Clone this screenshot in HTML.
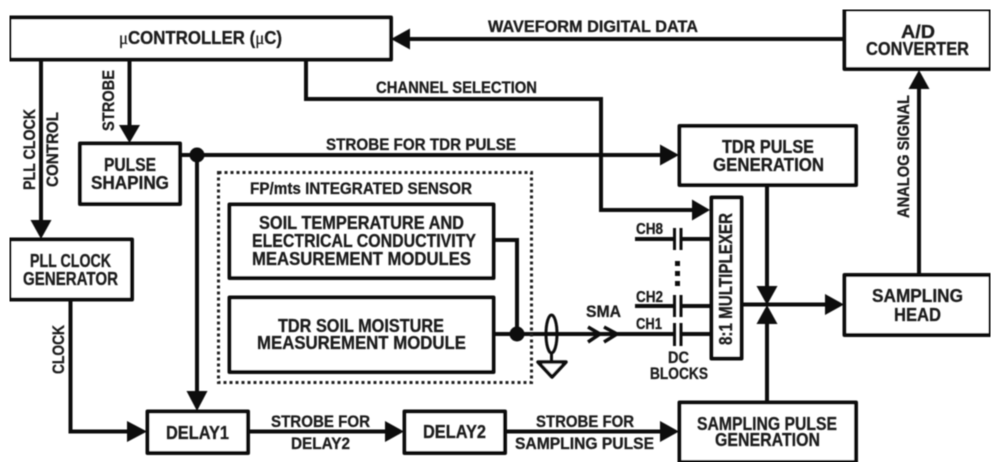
<!DOCTYPE html>
<html><head><meta charset="utf-8"><style>
html,body{margin:0;padding:0;background:#fff}
svg{display:block}
text{font-family:"Liberation Sans",sans-serif;font-weight:700;fill:#1c1c1c;stroke:#1c1c1c;stroke-width:.3;font-size:17px}
.m{font-weight:700;font-size:18px}
.s{font-weight:700;font-size:17px}
.b{fill:#fff;stroke:#111;stroke-width:4;stroke-linejoin:round}
.l{fill:none;stroke:#111;stroke-width:4;stroke-linejoin:miter}
.t{stroke:#111;stroke-width:3;fill:none}
.a{fill:#111}
</style></head><body>
<svg width="1000" height="472" viewBox="0 0 1000 472" xmlns="http://www.w3.org/2000/svg">
<defs><filter id="f" x="0" y="0" width="100%" height="100%"><feGaussianBlur stdDeviation="0.4"/></filter></defs>
<g filter="url(#f)">
<!-- connectors -->
<path class="l" d="M844 39H405"/><polygon class="a" points="391,39 410,28.500 410,49.500"/>
<path class="l" d="M306 60V99H601V210H695"/><polygon class="a" points="710,210 692,199.500 692,220.500"/>
<path class="l" d="M41 60V225"/><polygon class="a" points="41,239 30.500,220 51.500,220"/>
<path class="l" d="M129.500 60V130"/><polygon class="a" points="129.500,143 119,125 140,125"/>
<path class="l" d="M180 155H665"/><polygon class="a" points="679,155 660,144.500 660,165.500"/>
<circle class="a" cx="197" cy="155" r="7.500"/>
<path class="l" d="M197 155V398"/><polygon class="a" points="197,411 186.500,391 207.500,391"/>
<path class="l" d="M70.500 299V431.500H134"/><polygon class="a" points="147,431.500 127,421 127,442"/>
<path class="l" d="M248 431.500H392"/><polygon class="a" points="404,431.500 385,421 385,442"/>
<path class="l" d="M505 431.500H665"/><polygon class="a" points="679,431.500 660,421 660,442"/>
<path class="l" d="M767 185V290"/><polygon class="a" points="767,305 756.500,286 777.500,286"/>
<path class="l" d="M767 402V320"/><polygon class="a" points="767,305 756.500,324 777.500,324"/>
<path class="l" d="M742 304.500H830"/><polygon class="a" points="844,304.500 825,294 825,315"/>
<path class="l" d="M919 275V85"/><polygon class="a" points="919,70 908.500,89 929.500,89"/>
<path class="l" d="M493 240H517V334"/>
<path class="l" d="M493 334H617"/>
<circle class="a" cx="517" cy="334" r="7.500"/>
<!-- dashed sensor -->
<rect x="218.500" y="172.500" width="313" height="210" fill="none" stroke="#222" stroke-width="3" stroke-dasharray="3 3"/>
<!-- cable + ground -->
<ellipse cx="551.500" cy="334" rx="5.500" ry="19" fill="none" stroke="#111" stroke-width="3"/>
<path class="t" d="M551.500 353V362"/>
<polygon points="538,362 566,362 552,377" fill="#fff" stroke="#111" stroke-width="3.500" stroke-linejoin="round"/>
<!-- SMA chevrons -->
<path d="M588 327L600 334L588 342M604 327L617 334L604 342" fill="none" stroke="#111" stroke-width="3.500"/>
<!-- channel lines + capacitors -->
<path class="l" d="M635 239H674M681 239H710M635 306H674M681 306H710M617 334H674M681 334H710"/>
<path class="t" d="M674.500 228V250M681 228V250M674.500 295V317M681 295V317M674.500 323V346M681 323V346"/>
<rect class="a" x="675" y="261" width="5" height="5"/><rect class="a" x="675" y="271" width="5" height="5"/><rect class="a" x="675" y="281" width="5" height="5"/>
<!-- boxes -->
<rect class="b" x="9.500" y="17.500" width="381.500" height="42"/>
<rect class="b" x="844.500" y="9.500" width="146" height="59.500"/>
<rect class="b" x="80" y="143.500" width="100" height="60.500"/>
<rect class="b" x="9.500" y="239.500" width="122.500" height="60"/>
<rect class="b" x="679.500" y="126" width="176.500" height="59"/>
<rect class="b" x="711.500" y="197.500" width="30" height="161"/>
<rect class="b" x="844.500" y="275" width="146" height="60"/>
<rect class="b" x="679.500" y="402.500" width="176.500" height="59.500"/>
<rect class="b" x="147.500" y="411.500" width="100.500" height="41.500"/>
<rect class="b" x="404.500" y="411.500" width="100.500" height="41.500"/>
<rect class="b" x="229.500" y="204.500" width="264" height="73.500"/>
<rect class="b" x="229.500" y="297.500" width="264" height="74.500"/>
</g>
<g filter="url(#f)">
<!-- labels -->
<text class="m" x="119" y="44" textLength="163" lengthAdjust="spacingAndGlyphs"><tspan style="font-family:'Liberation Serif',serif;font-weight:normal">μ</tspan>CONTROLLER (<tspan style="font-family:'Liberation Serif',serif;font-weight:normal">μ</tspan>C)</text>
<text class="s" x="488" y="32" textLength="210" lengthAdjust="spacingAndGlyphs">WAVEFORM DIGITAL DATA</text>
<text class="s" x="376" y="93" textLength="161" lengthAdjust="spacingAndGlyphs">CHANNEL SELECTION</text>
<text class="s" x="326" y="150" textLength="190" lengthAdjust="spacingAndGlyphs">STROBE FOR TDR PULSE</text>
<text class="m" x="901" y="38" textLength="34" lengthAdjust="spacingAndGlyphs">A/D</text>
<text class="m" x="866" y="55" textLength="103" lengthAdjust="spacingAndGlyphs">CONVERTER</text>
<text class="m" x="722" y="153" textLength="92" lengthAdjust="spacingAndGlyphs">TDR PULSE</text>
<text class="m" x="713" y="171" textLength="111" lengthAdjust="spacingAndGlyphs">GENERATION</text>
<text class="m" x="104" y="171" textLength="52" lengthAdjust="spacingAndGlyphs">PULSE</text>
<text class="m" x="91" y="189" textLength="78" lengthAdjust="spacingAndGlyphs">SHAPING</text>
<text class="m" x="30" y="267" textLength="81" lengthAdjust="spacingAndGlyphs">PLL CLOCK</text>
<text class="m" x="23" y="285" textLength="95" lengthAdjust="spacingAndGlyphs">GENERATOR</text>
<text class="s" x="250" y="194" textLength="222" lengthAdjust="spacingAndGlyphs">FP/mts INTEGRATED SENSOR</text>
<text class="m" x="259" y="229" textLength="205" lengthAdjust="spacingAndGlyphs">SOIL TEMPERATURE AND</text>
<text class="m" x="252" y="247" textLength="224" lengthAdjust="spacingAndGlyphs">ELECTRICAL CONDUCTIVITY</text>
<text class="m" x="252" y="265" textLength="219" lengthAdjust="spacingAndGlyphs">MEASUREMENT MODULES</text>
<text class="m" x="278" y="332" textLength="166" lengthAdjust="spacingAndGlyphs">TDR SOIL MOISTURE</text>
<text class="m" x="257" y="349" textLength="209" lengthAdjust="spacingAndGlyphs">MEASUREMENT MODULE</text>
<text class="m" x="166" y="439" textLength="63" lengthAdjust="spacingAndGlyphs">DELAY1</text>
<text class="m" x="423" y="438" textLength="63" lengthAdjust="spacingAndGlyphs">DELAY2</text>
<text class="s" x="271" y="427" textLength="99" lengthAdjust="spacingAndGlyphs">STROBE FOR</text>
<text class="s" x="291" y="449" textLength="59" lengthAdjust="spacingAndGlyphs">DELAY2</text>
<text class="s" x="536" y="427" textLength="98" lengthAdjust="spacingAndGlyphs">STROBE FOR</text>
<text class="s" x="515" y="449" textLength="139" lengthAdjust="spacingAndGlyphs">SAMPLING PULSE</text>
<text class="m" x="697" y="430" textLength="140" lengthAdjust="spacingAndGlyphs">SAMPLING PULSE</text>
<text class="m" x="715" y="446" textLength="105" lengthAdjust="spacingAndGlyphs">GENERATION</text>
<text class="m" x="872" y="302" textLength="91" lengthAdjust="spacingAndGlyphs">SAMPLING</text>
<text class="m" x="894" y="321" textLength="47" lengthAdjust="spacingAndGlyphs">HEAD</text>
<text x="636" y="234" textLength="27" lengthAdjust="spacingAndGlyphs" style="font-size:16px">CH8</text>
<text x="636" y="302" textLength="27" lengthAdjust="spacingAndGlyphs" style="font-size:16px">CH2</text>
<text x="636" y="329" textLength="26" lengthAdjust="spacingAndGlyphs" style="font-size:16px">CH1</text>
<text x="586" y="317" textLength="35" lengthAdjust="spacingAndGlyphs" style="font-size:17px">SMA</text>
<text x="668" y="363" textLength="21" lengthAdjust="spacingAndGlyphs" style="font-size:17px">DC</text>
<text x="650" y="379" textLength="58" lengthAdjust="spacingAndGlyphs" style="font-size:17px">BLOCKS</text>
<text class="m" transform="translate(732 345) rotate(-90)" textLength="132" lengthAdjust="spacingAndGlyphs">8:1 MULTIPLEXER</text>
<text class="s" transform="translate(35 190) rotate(-90)" textLength="81" lengthAdjust="spacingAndGlyphs">PLL CLOCK</text>
<text class="s" transform="translate(58 187) rotate(-90)" textLength="75" lengthAdjust="spacingAndGlyphs">CONTROL</text>
<text class="s" transform="translate(114 131) rotate(-90)" textLength="61" lengthAdjust="spacingAndGlyphs">STROBE</text>
<text class="s" transform="translate(64 374) rotate(-90)" textLength="49" lengthAdjust="spacingAndGlyphs">CLOCK</text>
<text class="s" transform="translate(909 218) rotate(-90)" textLength="123" lengthAdjust="spacingAndGlyphs">ANALOG SIGNAL</text>
</g>
</svg>
</body></html>
